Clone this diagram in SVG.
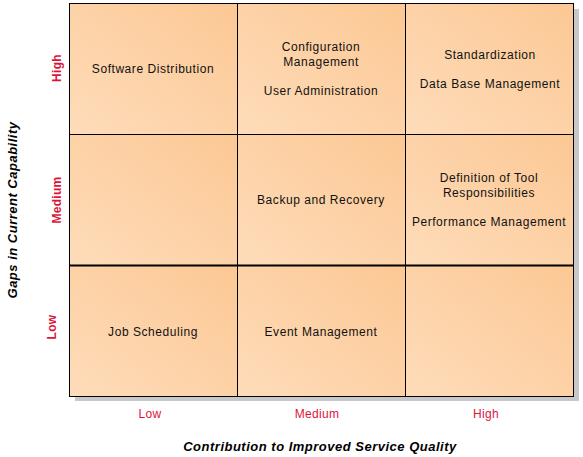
<svg xmlns="http://www.w3.org/2000/svg" width="583" height="457" viewBox="0 0 583 457">
<style>
.cell{fill:url(#g);stroke:#000;stroke-width:1}
.t{font-family:"Liberation Sans",Arial,sans-serif;font-size:12px;letter-spacing:0.55px;fill:#111;text-anchor:middle}
.ax{font-family:"Liberation Sans",Arial,sans-serif;font-size:12px;letter-spacing:0.3px;fill:#dc143c;text-anchor:middle}
.axb{font-weight:bold}
.title{font-family:"Liberation Sans",Arial,sans-serif;font-size:13px;letter-spacing:0.5px;font-weight:bold;font-style:italic;fill:#000;text-anchor:middle}
</style>
<defs>
<linearGradient id="g" x1="0" y1="1" x2="1" y2="0">
<stop offset="0" stop-color="#fedcba"/>
<stop offset="1" stop-color="#fcc894"/>
</linearGradient>
</defs>
<rect x="75" y="9" width="504" height="392" fill="#c8c8c8"/>
<g id="c11"><rect class="cell" x="69.5" y="3.5" width="168" height="131"/><text class="t" x="153" y="73">Software Distribution</text></g>
<g id="c12"><rect class="cell" x="237.5" y="3.5" width="168" height="131"/><text class="t" x="321" y="51">Configuration</text><text class="t" x="321" y="66">Management</text><text class="t" x="321" y="95">User Administration</text></g>
<g id="c13"><rect class="cell" x="405.5" y="3.5" width="168" height="131"/><text class="t" x="490" y="59">Standardization</text><text class="t" x="490" y="88">Data Base Management</text></g>
<g id="c21"><rect class="cell" x="69.5" y="134.5" width="168" height="131"/></g>
<g id="c22"><rect class="cell" x="237.5" y="134.5" width="168" height="131"/><text class="t" x="321" y="204">Backup and Recovery</text></g>
<g id="c23"><rect class="cell" x="405.5" y="134.5" width="168" height="131"/><text class="t" x="489" y="182">Definition of Tool</text><text class="t" x="489" y="197">Responsibilities</text><text class="t" x="489" y="226">Performance Management</text></g>
<g id="c31"><rect class="cell" x="69.5" y="265.5" width="168" height="131"/><text class="t" x="153" y="336">Job Scheduling</text></g>
<g id="c32"><rect class="cell" x="237.5" y="265.5" width="168" height="131"/><text class="t" x="321" y="336">Event Management</text></g>
<g id="c33"><rect class="cell" x="405.5" y="265.5" width="168" height="131"/></g>
<line x1="69" y1="265.5" x2="574" y2="265.5" stroke="#000" stroke-width="2"/>
<g id="yaxis">
<text class="ax axb" transform="translate(61,68) rotate(-90)">High</text>
<text class="ax axb" transform="translate(61,200) rotate(-90)">Medium</text>
<text class="ax axb" transform="translate(56,327) rotate(-90)">Low</text>
<text class="title" transform="translate(17,210) rotate(-90)">Gaps in Current Capability</text>
</g>
<g id="xaxis">
<text class="ax" x="150" y="418">Low</text>
<text class="ax" x="317" y="418">Medium</text>
<text class="ax" x="486" y="418">High</text>
<text class="title" x="320" y="451">Contribution to Improved Service Quality</text>
</g>
</svg>
